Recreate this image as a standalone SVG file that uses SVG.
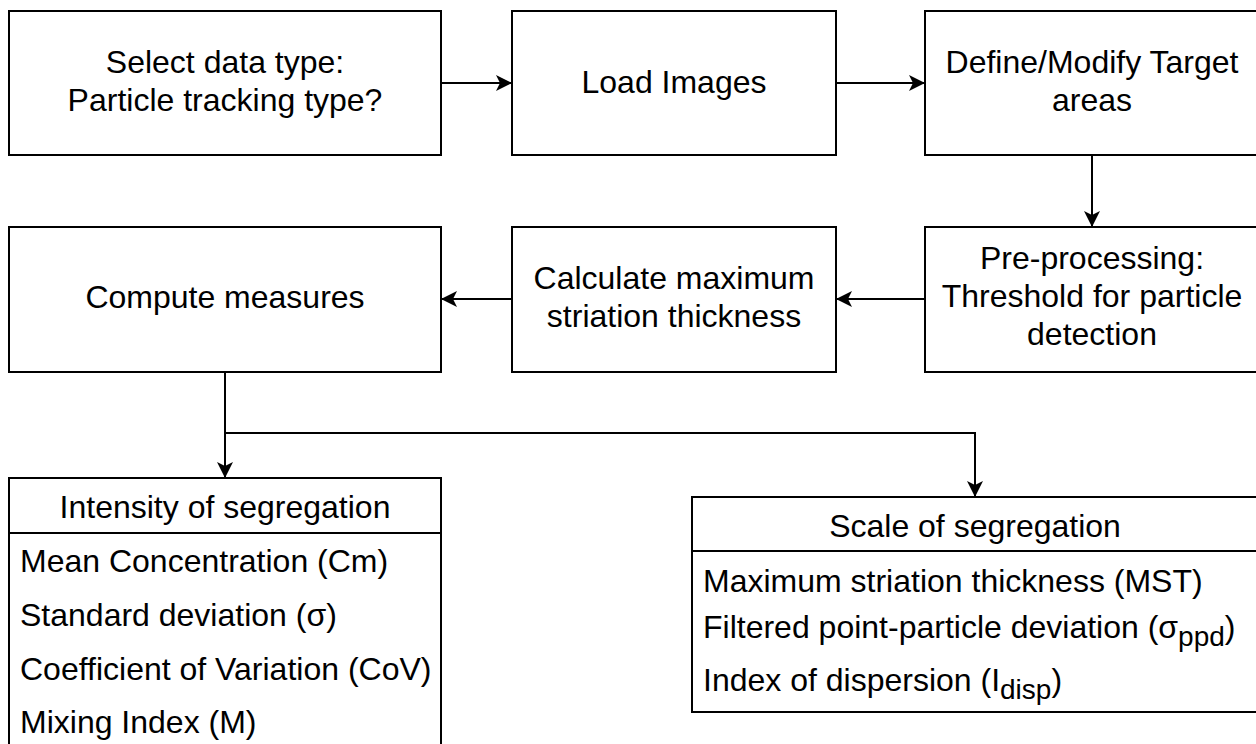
<svg xmlns="http://www.w3.org/2000/svg" width="1256" height="744" viewBox="0 0 1256 744">
<style>
.box{fill:#fff;stroke:#000;stroke-width:2}
.ln{fill:none;stroke:#000;stroke-width:2}
text{font-family:"Liberation Sans",Arial,sans-serif;font-size:32px;fill:#000}
.c{text-anchor:middle}
.sub{font-size:28px}
</style>
<defs>
<marker id="arr" markerUnits="userSpaceOnUse" viewBox="0 0 16 16" refX="16" refY="8" markerWidth="16" markerHeight="16" orient="auto">
<path d="M0,0 L16,8 L0,16 L4,8 Z" fill="#000"/>
</marker>
</defs>
<rect width="1256" height="744" fill="#fff"/>
<g id="connectors">
<path class="ln" d="M441,83 H512" marker-end="url(#arr)"/>
<path class="ln" d="M836,83 H925" marker-end="url(#arr)"/>
<path class="ln" d="M1092,155 V227" marker-end="url(#arr)"/>
<path class="ln" d="M925,299 H836" marker-end="url(#arr)"/>
<path class="ln" d="M512,299 H441" marker-end="url(#arr)"/>
<path class="ln" d="M225,372 V478" marker-end="url(#arr)"/>
<path class="ln" d="M225,433 H975 V497" marker-end="url(#arr)"/>
</g>
<g id="select">
<rect class="box" x="9" y="11" width="432" height="144"/>
<text class="c" x="225" y="73">Select data type:</text>
<text class="c" x="225" y="111">Particle tracking type?</text>
</g>
<g id="load">
<rect class="box" x="512" y="11" width="324" height="144"/>
<text class="c" x="674" y="93">Load Images</text>
</g>
<g id="define">
<rect class="box" x="925" y="11" width="334" height="144"/>
<text class="c" x="1092" y="73">Define/Modify Target</text>
<text class="c" x="1092" y="111">areas</text>
</g>
<g id="preprocess">
<rect class="box" x="925" y="227" width="334" height="145"/>
<text class="c" x="1092" y="269">Pre-processing:</text>
<text class="c" x="1092" y="307">Threshold for particle</text>
<text class="c" x="1092" y="345">detection</text>
</g>
<g id="calculate">
<rect class="box" x="512" y="227" width="324" height="145"/>
<text class="c" x="674" y="289">Calculate maximum</text>
<text class="c" x="674" y="327">striation thickness</text>
</g>
<g id="compute">
<rect class="box" x="9" y="227" width="432" height="145"/>
<text class="c" x="225" y="308">Compute measures</text>
</g>
<g id="intensity">
<rect class="box" x="9" y="478" width="432" height="272"/>
<line class="ln" x1="9" y1="533" x2="441" y2="533"/>
<text class="c" x="225" y="518">Intensity of segregation</text>
<text x="20" y="572">Mean Concentration (Cm)</text>
<text x="20" y="626">Standard deviation (σ)</text>
<text x="20" y="680">Coefficient of Variation (CoV)</text>
<text x="20" y="733">Mixing Index (M)</text>
</g>
<g id="scale">
<rect class="box" x="692" y="497" width="566" height="215"/>
<line class="ln" x1="692" y1="551" x2="1258" y2="551"/>
<text class="c" x="975" y="537">Scale of segregation</text>
<text x="703" y="592">Maximum striation thickness (MST)</text>
<text x="703" y="638">Filtered point-particle deviation (σ<tspan class="sub" dy="8">ppd</tspan><tspan dy="-8">)</tspan></text>
<text x="703" y="691">Index of dispersion (I<tspan class="sub" dy="8">disp</tspan><tspan dy="-8">)</tspan></text>
</g>
</svg>
